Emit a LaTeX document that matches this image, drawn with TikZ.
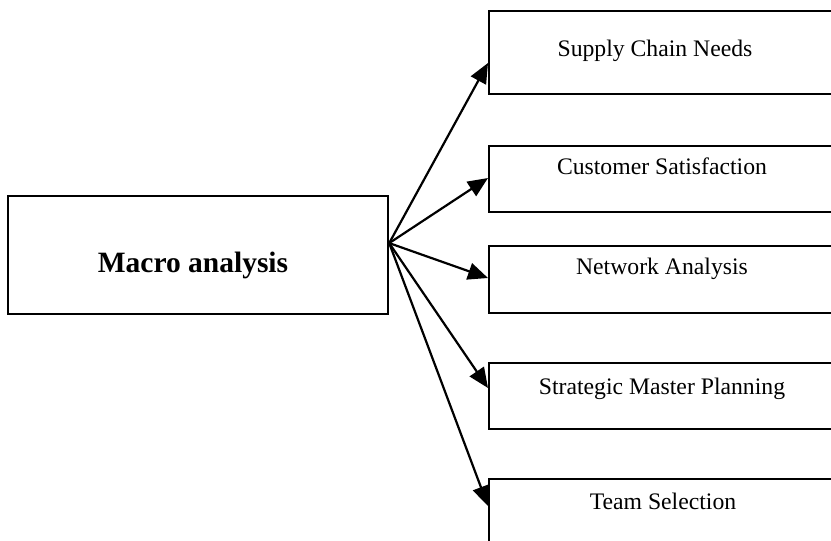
\documentclass[tikz,border=0pt]{standalone}
\usepackage{fontspec}
\setmainfont{Liberation Serif}
\usetikzlibrary{arrows.meta}

\tikzset{
  frame/.style={draw=black, line width=2.2pt, rectangle, inner sep=0pt, anchor=north west},
  sidebox/.style={frame, minimum width=360pt},
  itemtext/.style={anchor=base, inner sep=0pt, font=\fontsize{23.7pt}{28pt}\selectfont},
  headtext/.style={anchor=base, inner sep=0pt, font=\fontsize{29.5pt}{34pt}\selectfont\bfseries},
  link/.style={line width=2.2pt, -{Triangle[length=20pt,width=17pt]}}
}

\begin{document}
\begin{tikzpicture}[x=1pt, y=-1pt]
  \useasboundingbox (0,0) rectangle (831,541);
  \clip (0,0) rectangle (831,541);

  % central box
  \node[frame, minimum width=380pt, minimum height=118pt] (macro) at (7,195) {};
  \node[headtext] (macrotxt) at (193,272) {Macro analysis};

  % right-hand boxes, running off the right edge
  \node[sidebox, minimum height=83pt] (b1) at (488,10) {};
  \node[sidebox, minimum height=66pt] (b2) at (488,145) {};
  \node[sidebox, minimum height=67pt] (b3) at (488,245) {};
  \node[sidebox, minimum height=66pt] (b4) at (488,362) {};
  \node[sidebox, minimum height=90pt] (b5) at (488,478) {};

  \node[itemtext] (t1) at (655,56) {Supply Chain Needs};
  \node[itemtext] (t2) at (662,174) {Customer Satisfaction};
  \node[itemtext] (t3) at (662,274) {Network Analysis};
  \node[itemtext] (t4) at (662,394) {Strategic Master Planning};
  \node[itemtext] (t5) at (663,509) {Team Selection};

  % fan of arrows from one point on the central box
  \coordinate (hub) at ([yshift=12pt]macro.east);
  \draw[link] (hub) -- ([yshift=-53pt]b1.north west);
  \draw[link] (hub) -- ([yshift=-33pt]b2.north west);
  \draw[link] (hub) -- ([yshift=-33pt]b3.north west);
  \draw[link] (hub) -- ([yshift=-26pt]b4.north west);
  \draw[link] (hub) -- ([yshift=-28pt]b5.north west);
\end{tikzpicture}
\end{document}
